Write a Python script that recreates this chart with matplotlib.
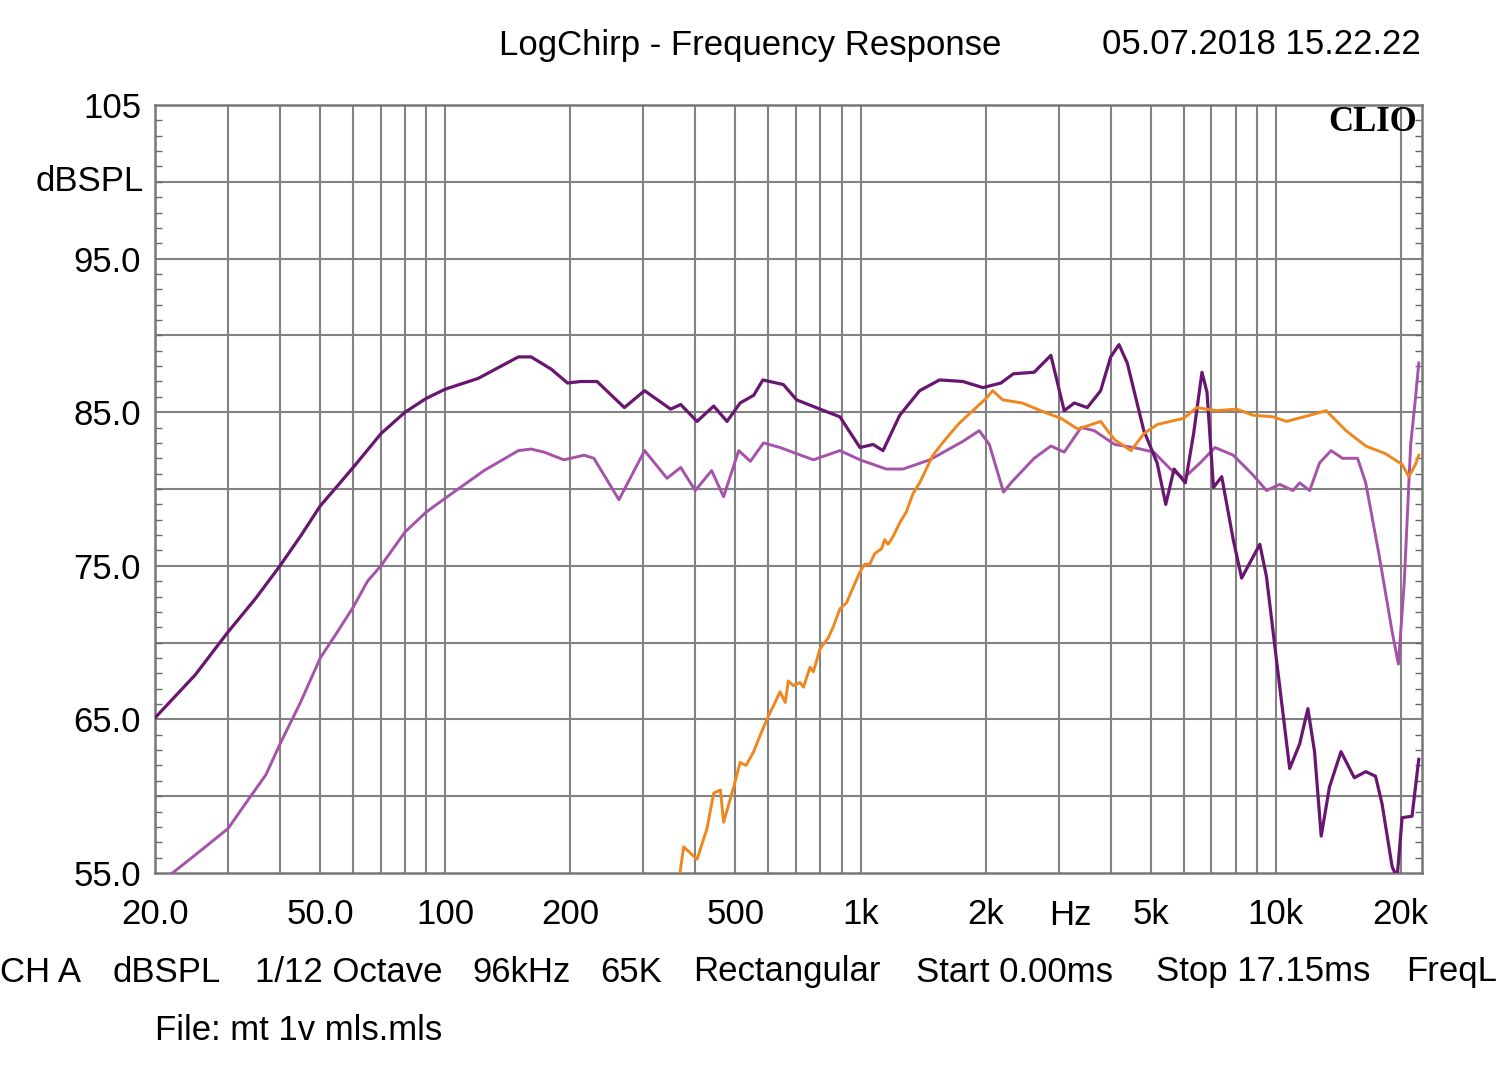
import numpy as np
import matplotlib.pyplot as plt
from matplotlib.ticker import FixedLocator, NullFormatter

plt.rcParams['font.family'] = ['Liberation Sans', 'DejaVu Sans']

# Dark purple curve (Hz, dBSPL)
dark_f = [20, 25, 30, 35, 40, 45, 50, 55, 60, 70, 80, 90, 100, 120, 150, 161, 180, 197, 212, 232,
          270, 302, 349, 369, 404, 443, 477, 513, 553, 582, 652, 702, 799, 892, 997, 1072, 1133,
          1243, 1388, 1550, 1764, 1971, 2179, 2334, 2619, 2874, 3094, 3272, 3517, 3787, 4004,
          4193, 4390, 4811, 5180, 5434, 5690, 6058, 6341, 6642, 6830, 7079, 7411, 7900, 8276,
          9155, 9498, 10037, 10802, 11416, 11950, 12400, 12866, 13470, 14360, 15460, 16470,
          17390, 18030, 19070, 19600, 20150, 21290, 21700, 22100]
dark_db = [65.1, 67.9, 70.7, 72.9, 75.0, 77.0, 78.9, 80.2, 81.4, 83.6, 85.0, 85.9, 86.5, 87.2,
           88.6, 88.6, 87.8, 86.9, 87.0, 87.0, 85.3, 86.4, 85.2, 85.5, 84.4, 85.4, 84.4, 85.6,
           86.1, 87.1, 86.8, 85.8, 85.2, 84.7, 82.7, 82.9, 82.5, 84.8, 86.4, 87.1, 87.0, 86.6,
           86.9, 87.5, 87.6, 88.7, 85.1, 85.6, 85.3, 86.4, 88.6, 89.4, 88.2, 83.8, 81.7, 79.0,
           81.3, 80.4, 83.6, 87.6, 86.3, 80.1, 80.8, 76.7, 74.2, 76.4, 74.3, 68.9, 61.8, 63.4,
           65.7, 62.9, 57.4, 60.6, 62.9, 61.2, 61.6, 61.3, 59.5, 55.4, 54.7, 58.6, 58.7, 60.6,
           62.4]

# Light purple curve
light_f = [21.8, 24.8, 27, 30, 34, 37, 40, 44.8, 50, 55, 60, 65, 70, 80, 90, 100, 124, 150, 161,
           173, 193, 216, 228, 262, 302, 342, 369, 400, 438, 468, 509, 543, 584, 640, 702, 770,
           892, 997, 1154, 1266, 1468, 1764, 1932, 2043, 2210, 2303, 2619, 2874, 3094, 3397,
           3654, 4093, 4553, 5085, 5575, 5998, 6576, 7139, 7900, 8825, 9498, 10223, 11003,
           11416, 12070, 12750, 13590, 14480, 15740, 16470, 17710, 19070, 19740, 20390, 21130,
           21700, 22100]
light_db = [54.9, 56.1, 56.9, 57.9, 60.0, 61.4, 63.4, 66.1, 69.0, 70.7, 72.3, 74.0, 75.0, 77.2,
            78.5, 79.4, 81.2, 82.5, 82.6, 82.4, 81.9, 82.2, 82.0, 79.3, 82.5, 80.7, 81.4, 79.9,
            81.2, 79.5, 82.5, 81.8, 83.0, 82.7, 82.3, 81.9, 82.5, 81.9, 81.3, 81.3, 81.9, 83.1,
            83.8, 82.9, 79.8, 80.4, 82.0, 82.8, 82.4, 84.0, 83.8, 82.9, 82.7, 82.4, 81.3, 80.7,
            81.7, 82.7, 82.2, 80.9, 79.9, 80.3, 79.9, 80.4, 79.9, 81.7, 82.5, 82.0, 82.0, 80.4,
            75.8, 70.7, 68.6, 73.9, 82.9, 85.9, 88.2]

# Orange curve
orange_f = [367, 375, 404, 427, 443, 460, 468, 495, 513, 530, 553, 570, 595, 620, 640, 659, 670,
            689, 715, 729, 756, 770, 799, 836, 859, 892, 926, 953, 997, 1024, 1053, 1082, 1123,
            1144, 1165, 1198, 1243, 1289, 1338, 1388, 1494, 1609, 1731, 1864, 2007, 2082, 2201,
            2452, 2771, 3040, 3337, 3787, 4093, 4484, 4811, 5180, 5998, 6450, 7213, 8054, 8825,
            9853, 10610, 12070, 13230, 14760, 16470, 18380, 20150, 20920, 21700, 22100]
orange_db = [54.9, 56.7, 55.9, 57.9, 60.2, 60.4, 58.3, 60.6, 62.2, 62.0, 62.9, 63.8, 65.0, 66.0,
             66.8, 66.1, 67.5, 67.2, 67.4, 67.1, 68.4, 68.1, 69.6, 70.3, 71.0, 72.2, 72.6, 73.4,
             74.6, 75.1, 75.1, 75.8, 76.1, 76.7, 76.4, 76.9, 77.8, 78.5, 79.7, 80.4, 82.2, 83.3,
             84.3, 85.1, 85.9, 86.4, 85.8, 85.6, 85.0, 84.6, 83.9, 84.4, 83.2, 82.5, 83.6, 84.2,
             84.6, 85.3, 85.1, 85.2, 84.8, 84.7, 84.4, 84.8, 85.1, 83.8, 82.8, 82.3, 81.6, 80.8,
             81.6, 82.2]

xtick_vals = [20, 50, 100, 200, 500, 1000, 2000, 5000, 10000, 20000]
xtick_text = ["20.0", "50.0", "100", "200", "500", "1k", "2k", "5k", "10k", "20k"]
ytick_vals = [55, 65, 75, 85, 95, 105]
ytick_text = ["55.0", "65.0", "75.0", "85.0", "95.0", "105"]

W, H = 1500, 1074
fs = 25
fig = plt.figure(figsize=(W / 100, H / 100), dpi=100)
ax = fig.add_axes([155 / W, 1 - 873 / H, (1422 - 155) / W, (873 - 105) / H])

ax.plot(light_f, light_db, color="#a552aa", lw=2.1, zorder=3, solid_joinstyle="round")
ax.plot(dark_f, dark_db, color="#681670", lw=2.3, zorder=4, solid_joinstyle="round")
ax.plot(orange_f, orange_db, color="#f0861e", lw=2.1, zorder=5, solid_joinstyle="round")

ax.set_xscale("log")
ax.set_xlim(20, 22500)
ax.set_ylim(55, 105)

# grid lines: every 5 dB and every log step
grid_f = [f for d in [10, 100, 1000, 10000] for f in np.arange(1, 10) * d if 20 <= f <= 20000]
for f in grid_f:
    ax.axvline(f, color="#828282", lw=1.5, zorder=1)
for v in np.arange(60, 105, 5):
    ax.axhline(v, color="#828282", lw=1.5, zorder=1)

ax.set_xticks(xtick_vals)
ax.set_xticklabels(xtick_text)
ax.xaxis.set_minor_locator(FixedLocator([]))
ax.xaxis.set_minor_formatter(NullFormatter())
ax.tick_params(axis="x", length=0, pad=18, labelsize=fs)
ax.set_yticks(ytick_vals)
ax.set_yticklabels(ytick_text)
ax.yaxis.set_minor_locator(FixedLocator(np.arange(55, 106, 1)))
ax.tick_params(axis="y", which="major", length=0, pad=10, labelsize=fs)
ax.tick_params(axis="y", which="minor", direction="in", length=5, width=1,
               color="#666666", left=True, right=True)

for s in ax.spines.values():
    s.set_color("#777777")
    s.set_linewidth(1.8)

ax.text(3200, -0.055, "Hz", transform=ax.get_xaxis_transform(), ha="center", va="center",
        fontsize=fs)
ax.text(-0.009, 100, "dBSPL", transform=ax.get_yaxis_transform(), ha="right", va="center",
        fontsize=fs)
ax.text(0.996, 0.977, "CLIO", transform=ax.transAxes, ha="right", va="center", fontsize=25,
        fontweight="bold", family="Liberation Serif", zorder=6)

# header
fig.text(750 / W, 1 - 45 / H, "LogChirp - Frequency Response", ha="center", va="center", fontsize=fs)
fig.text(1421 / W, 1 - 45 / H, "05.07.2018 15.22.22", ha="right", va="center", fontsize=fs)

# footer
footer = [(0, "CH A"), (113, "dBSPL"), (255, "1/12 Octave"), (472, "96kHz"), (600, "65K"),
          (693, "Rectangular"), (916, "Start 0.00ms"), (1156, "Stop 17.15ms")]
for x, s in footer:
    fig.text(x / W, 1 - 972 / H, s, ha="left", va="center", fontsize=fs)
fig.text(1497 / W, 1 - 972 / H, "FreqL", ha="right", va="center", fontsize=fs)
fig.text(155 / W, 1 - 1030 / H, "File: mt 1v mls.mls", ha="left", va="center", fontsize=fs)

fig.savefig("out.png", dpi=100, facecolor="white")
